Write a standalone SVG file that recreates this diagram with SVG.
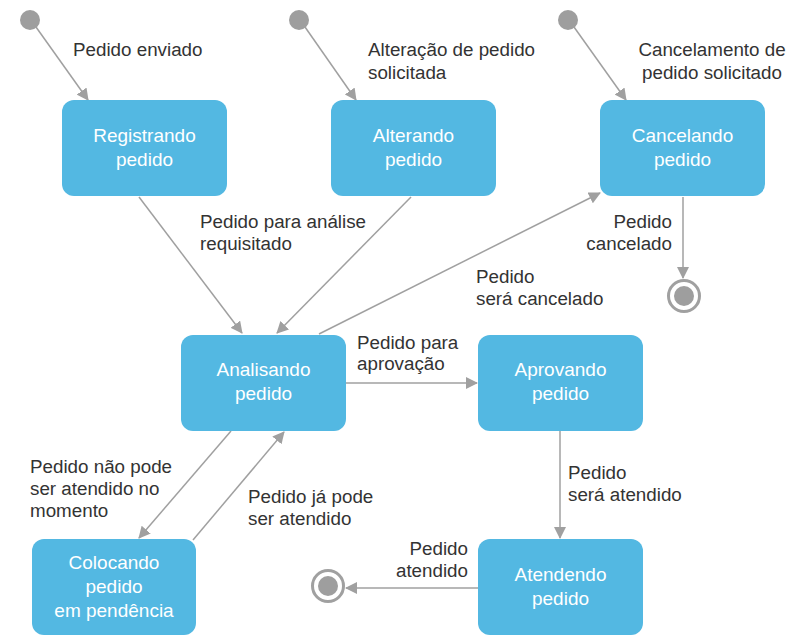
<svg xmlns="http://www.w3.org/2000/svg" width="794" height="642" viewBox="0 0 794 642">
<style>
.node{fill:#53b8e2;}
.nt{font-family:"Liberation Sans",Arial,sans-serif;font-size:19px;fill:#ffffff;text-anchor:middle;}
.lb{font-family:"Liberation Sans",Arial,sans-serif;font-size:18.8px;fill:#333333;}
.e{stroke:#a0a0a0;stroke-width:1.5;fill:none;marker-end:url(#ah);}
.init{fill:#9e9e9e;}
.fo{fill:#ffffff;stroke:#a0a0a0;stroke-width:3;}
.fi{fill:#9e9e9e;}
</style>
<defs>
<marker id="ah" viewBox="0 0 12 12" refX="11" refY="6" markerWidth="12" markerHeight="12" markerUnits="userSpaceOnUse" orient="auto">
<path d="M0,0 L12,6 L0,12 Z" fill="#a0a0a0"/>
</marker>
</defs>
<rect width="794" height="642" fill="#ffffff"/>
<g id="connectors">
<line class="e" x1="36" y1="27" x2="88" y2="100"/>
<line class="e" x1="305" y1="27" x2="356" y2="100"/>
<line class="e" x1="574" y1="27" x2="626" y2="100"/>
<line class="e" x1="139" y1="197" x2="242" y2="333"/>
<line class="e" x1="411" y1="197" x2="277" y2="333"/>
<line class="e" x1="319" y1="334" x2="600" y2="193"/>
<line class="e" x1="683" y1="197" x2="683" y2="278"/>
<line class="e" x1="346" y1="383" x2="477" y2="383"/>
<line class="e" x1="560" y1="431" x2="560" y2="538"/>
<line class="e" x1="478" y1="588" x2="346" y2="588"/>
<line class="e" x1="231" y1="431" x2="139" y2="538"/>
<line class="e" x1="193" y1="540" x2="284" y2="432"/>
</g>
<g id="init1"><circle class="init" cx="30" cy="20" r="10"/></g>
<g id="init2"><circle class="init" cx="299" cy="20" r="10"/></g>
<g id="init3"><circle class="init" cx="568" cy="20" r="10"/></g>
<g id="final1"><circle class="fo" cx="684" cy="296" r="15.5"/><circle class="fi" cx="684" cy="296" r="10"/></g>
<g id="final2"><circle class="fo" cx="328" cy="586" r="15.5"/><circle class="fi" cx="328" cy="586" r="10"/></g>
<g id="registrando"><rect class="node" x="62" y="100" width="165" height="96" rx="12"/><text class="nt" x="144.5" y="142">Registrando</text><text class="nt" x="144.5" y="166">pedido</text></g>
<g id="alterando"><rect class="node" x="331" y="100" width="165" height="96" rx="12"/><text class="nt" x="413.5" y="142">Alterando</text><text class="nt" x="413.5" y="166">pedido</text></g>
<g id="cancelando"><rect class="node" x="600" y="100" width="165" height="96" rx="12"/><text class="nt" x="682.5" y="142">Cancelando</text><text class="nt" x="682.5" y="166">pedido</text></g>
<g id="analisando"><rect class="node" x="181" y="335" width="165" height="96" rx="12"/><text class="nt" x="263.5" y="376">Analisando</text><text class="nt" x="263.5" y="400">pedido</text></g>
<g id="aprovando"><rect class="node" x="478" y="335" width="165" height="96" rx="12"/><text class="nt" x="560.5" y="376">Aprovando</text><text class="nt" x="560.5" y="400">pedido</text></g>
<g id="colocando"><rect class="node" x="32" y="539" width="164" height="96" rx="12"/><text class="nt" x="114" y="569">Colocando</text><text class="nt" x="114" y="593">pedido</text><text class="nt" x="114" y="617">em pendência</text></g>
<g id="atendendo"><rect class="node" x="478" y="539" width="165" height="96" rx="12"/><text class="nt" x="560.5" y="581">Atendendo</text><text class="nt" x="560.5" y="605">pedido</text></g>
<g id="labels">
<text class="lb" x="73" y="56">Pedido enviado</text>
<text class="lb" x="368" y="56">Alteração de pedido</text>
<text class="lb" x="368" y="79">solicitada</text>
<text class="lb" x="712" y="56" text-anchor="middle">Cancelamento de</text>
<text class="lb" x="712" y="79" text-anchor="middle">pedido solicitado</text>
<text class="lb" x="200" y="228">Pedido para análise</text>
<text class="lb" x="200" y="250">requisitado</text>
<text class="lb" x="672" y="228" text-anchor="end">Pedido</text>
<text class="lb" x="672" y="250" text-anchor="end">cancelado</text>
<text class="lb" x="476" y="283">Pedido</text>
<text class="lb" x="476" y="305">será cancelado</text>
<text class="lb" x="357" y="349">Pedido para</text>
<text class="lb" x="357" y="370">aprovação</text>
<text class="lb" x="568" y="479">Pedido</text>
<text class="lb" x="568" y="501">será atendido</text>
<text class="lb" x="30" y="473">Pedido não pode</text>
<text class="lb" x="30" y="495">ser atendido no</text>
<text class="lb" x="30" y="517">momento</text>
<text class="lb" x="248" y="503">Pedido já pode</text>
<text class="lb" x="248" y="525">ser atendido</text>
<text class="lb" x="468" y="555" text-anchor="end">Pedido</text>
<text class="lb" x="468" y="577" text-anchor="end">atendido</text>
</g>
</svg>
